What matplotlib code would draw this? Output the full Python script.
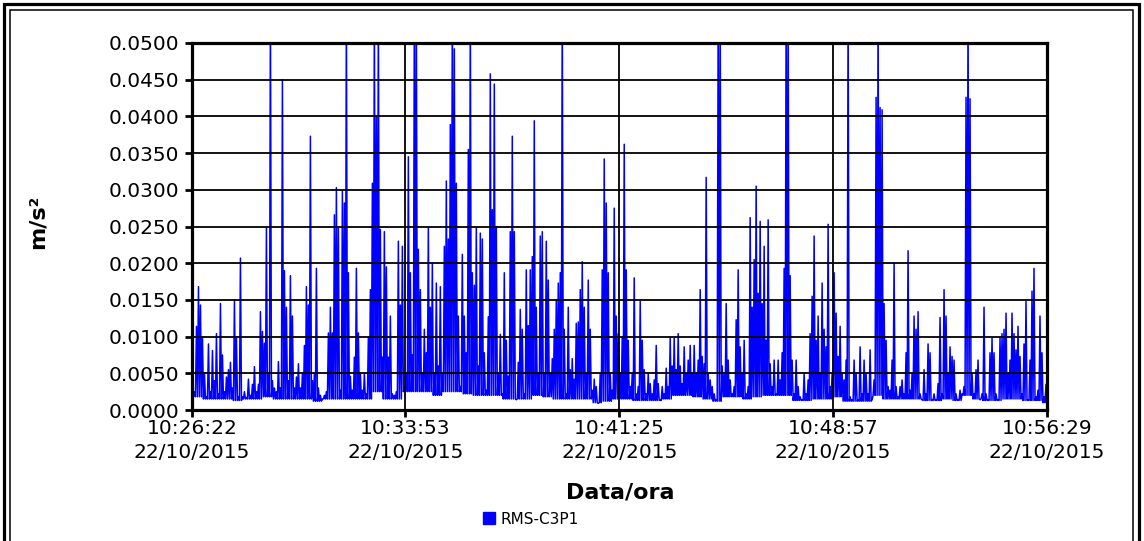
import matplotlib
matplotlib.use("Agg")
import matplotlib.pyplot as plt
import matplotlib.dates as mdates
from matplotlib.ticker import FormatStrFormatter
from matplotlib.patches import Rectangle
from matplotlib.lines import Line2D
import numpy as np
import pandas as pd

# valori RMS (massimi), in 10^-3 m/s^2 (55 = fuori scala)
rms_1 = [2.0, 2.5, 11.4, 16.8, 14.3, 10.0, 5.0, 1.8, 9.0, 2.5, 8.1, 4.0, 10.4, 2.2,
         14.5, 7.5, 2.5, 4.5, 5.5, 6.5, 3.0, 15.0, 10.0, 1.8, 20.7, 1.8, 2.5, 1.7,
         4.2, 2.0, 3.5, 5.9, 2.5, 3.5, 13.4, 10.7, 9.1, 24.8, 5.0, 55, 4.0, 3.0,
         2.5, 6.6, 3.0, 45.0, 19.0, 14.0, 4.0, 18.3, 12.8, 3.0, 4.5, 6.3, 3.0, 5.0,
         8.8, 16.8, 14.3, 37.3, 4.0, 5.0, 19.3, 3.0, 2.0, 1.5, 2.0, 2.5, 10.5, 14.0]
rms_2 = [10.5, 26.6, 30.3, 24.8, 2.7, 29.8, 28.2, 55, 18.7, 4.6, 2.7, 7.2, 19.3, 10.5,
         5.0, 2.7, 5.0, 2.2, 10.0, 16.4, 30.9, 55, 40.0, 55, 24.6, 7.2, 24.3, 19.5,
         7.2, 12.8, 2.2, 2.0, 2.5, 23.0, 14.3, 22.3, 3.2, 5.0, 34.5, 18.7, 7.5, 55,
         55, 21.9, 16.4, 5.0, 11.0, 7.8, 24.8, 14.0, 20.0, 5.0, 17.3, 6.0, 16.8, 5.0,
         22.3, 31.2, 23.3, 38.9, 55, 49.2, 30.9, 12.8, 3.2, 21.2, 12.8, 7.8, 35.5, 55,
         18.7, 17.0]
rms_3 = [24.8, 6.0, 24.1, 23.3, 7.8, 2.7, 12.7, 45.8, 27.3, 44.4, 25.0, 5.0, 10.3, 2.2,
         18.7, 9.5, 4.6, 24.3, 37.3, 24.3, 1.4, 6.5, 13.7, 11.0, 2.2, 19.1, 11.5, 19.1,
         20.9, 39.4, 14.0, 5.0, 23.7, 24.3, 5.0, 23.0, 17.7, 5.0, 7.0, 11.0, 15.0, 17.3,
         18.7, 55, 11.0, 2.2, 14.0, 5.5, 7.0, 4.2, 11.8, 12.0, 16.4, 20.2, 14.0, 5.0,
         17.7, 11.0, 2.7, 4.2, 3.2, 0.9, 5.0, 19.1, 34.2, 28.2, 18.7, 5.0, 2.7, 27.5,
         12.8]
rms_4 = [10.4, 5.0, 10.0, 36.2, 19.1, 9.5, 3.2, 5.0, 18.0, 2.2, 3.2, 14.8, 9.5, 5.5,
         2.2, 5.0, 3.6, 2.2, 4.1, 8.8, 3.6, 1.4, 3.2, 2.2, 5.7, 3.2, 9.8, 6.0,
         9.8, 5.5, 10.4, 6.0, 3.6, 8.6, 5.0, 6.8, 8.8, 5.0, 8.8, 5.0, 6.8, 16.4,
         7.3, 6.3, 31.7, 5.0, 4.1, 3.2, 2.2, 1.4, 55, 55, 6.0, 5.0, 14.5, 6.8,
         4.1, 2.2, 3.2, 12.3, 19.1, 8.6, 5.0, 9.5, 2.2, 3.2, 26.2, 14.0, 20.5, 30.5,
         15.9]
rms_5 = [25.7, 14.5, 22.3, 9.5, 25.9, 6.3, 3.2, 6.8, 2.2, 6.8, 4.1, 7.8, 19.3, 55,
         55, 18.3, 6.8, 2.2, 6.8, 3.2, 1.8, 1.4, 5.0, 2.2, 4.1, 10.4, 15.5, 23.7,
         9.5, 12.8, 5.0, 17.3, 11.0, 8.6, 25.3, 3.2, 5.0, 18.7, 13.2, 7.3, 11.4, 5.0,
         4.1, 6.8, 55, 1.8, 1.4, 6.8, 5.0, 1.4, 8.6, 2.2, 6.8, 5.0, 2.2, 8.2,
         1.4, 4.1, 42.6, 55, 41.2, 40.9, 14.5, 9.5, 3.2, 2.7, 6.8, 20.0, 3.2, 1.8]
rms_6 = [3.2, 4.1, 2.2, 7.8, 21.7, 2.7, 5.0, 12.8, 11.0, 13.4, 2.2, 1.4, 5.5, 2.2,
         9.0, 7.8, 1.4, 2.2, 1.4, 3.6, 12.6, 2.2, 16.4, 12.8, 5.0, 8.6, 7.3, 6.8,
         2.2, 1.4, 2.7, 2.2, 3.2, 42.6, 55, 42.4, 5.0, 2.2, 5.5, 6.8, 1.4, 2.2,
         14.0, 2.2, 1.4, 7.8, 9.8, 7.8, 2.2, 1.4, 9.8, 10.4, 11.0, 13.2, 5.0, 6.8,
         13.2, 10.4, 8.2, 11.4, 7.3, 2.2, 9.0, 14.8, 1.4, 6.8, 16.2, 19.3, 1.8, 2.7,
         12.8, 7.8, 1.8, 3.5]

# livello minimo del segnale, uno ogni 5 campioni (10^-3 m/s^2)
fondo = [1.8, 1.5, 1.5, 1.5, 1.3, 1.5, 1.5, 1.8, 1.5, 1.5, 1.5, 1.5, 1.2, 1.5,
         1.5, 1.5, 1.5, 1.5, 2.5, 1.5, 1.5, 2.5, 2.5, 2.5, 2.0, 2.5, 2.5, 2.2,
         2.0, 2.0, 2.0, 1.5, 1.5, 1.5, 2.0, 1.8, 1.5, 1.5, 1.5, 1.5, 1.0, 1.2,
         1.5, 1.5, 1.3, 1.3, 1.3, 1.5, 2.0, 2.0, 1.8, 1.5, 1.2, 1.8, 1.8, 1.5,
         1.8, 2.0, 2.0, 2.0, 1.3, 1.3, 1.5, 1.5, 1.8, 1.2, 1.2, 1.2, 2.0, 1.5,
         1.5, 1.5, 1.5, 1.3, 1.3, 1.5, 1.3, 2.0, 1.5, 1.3, 1.3, 1.5, 1.5, 1.3,
         1.3, 1.0]

giorno = "2015-10-22"
etichette_ore = ["10:26:22", "10:33:53", "10:41:25", "10:48:57", "10:56:29"]

picchi = np.array(rms_1 + rms_2 + rms_3 + rms_4 + rms_5 + rms_6)
minimi = np.array(fondo)[np.arange(len(picchi)) // 5]
# alterna massimo e minimo per ogni campione
rms = np.empty(2 * len(picchi))
rms[0::2] = picchi
rms[1::2] = minimi
rms = rms * 1e-3
tempo = pd.date_range(giorno + " 10:26:23", giorno + " 10:56:29", periods=len(rms))
tick_ore = [pd.Timestamp(giorno + " " + h) for h in etichette_ore]

fig = plt.figure(figsize=(11.44, 5.41), dpi=100)
fig.patch.set_facecolor("white")
ax = fig.add_axes([192 / 1144, 1 - 410 / 541, 855 / 1144, 367 / 541])

ax.plot(tempo, rms, color="#0000ff", lw=1.1, zorder=2)

ax.set_ylim(0, 0.05)
ax.set_xlim(tick_ore[0], tick_ore[-1])
ax.set_yticks(np.arange(0, 0.0501, 0.005))
ax.yaxis.set_major_formatter(FormatStrFormatter("%.4f"))
ax.set_xticks(tick_ore)
ax.xaxis.set_major_formatter(mdates.DateFormatter("%H:%M:%S\n%d/%m/%Y"))

ax.set_axisbelow(False)
ax.grid(True, color="black", lw=1.3)
for s in ax.spines.values():
    s.set_linewidth(2.3)
    s.set_color("black")
ax.tick_params(axis="both", direction="out", length=5, width=2, labelsize=14.5,
               colors="black")
ax.tick_params(axis="y", pad=4)
ax.tick_params(axis="x", pad=1.5)
for lab in ax.get_xticklabels():
    lab.set_linespacing(1.3)

fig.text(38 / 1144, 1 - 222 / 541, "m/s²", rotation=90, ha="center", va="center",
         fontsize=16, fontweight="bold")
fig.text(620 / 1144, 1 - 492 / 541, "Data/ora", ha="center", va="center",
         fontsize=16, fontweight="bold")

simbolo = Line2D([], [], color="#0000ff", marker="s", linestyle="none", markersize=8)
fig.legend([simbolo], ["RMS-C3P1"], loc="center", bbox_to_anchor=(530 / 1144, 1 - 519 / 541),
           frameon=False, fontsize=11, handletextpad=0.3, handlelength=1)

# doppia cornice
fig.patches.append(Rectangle((4 / 1144, -0.2), 1135 / 1144, 1.2 - 4 / 541,
                             transform=fig.transFigure, fill=False, lw=2.3,
                             edgecolor="black"))
fig.patches.append(Rectangle((10 / 1144, -0.2), 1123 / 1144, 1.2 - 10 / 541,
                             transform=fig.transFigure, fill=False, lw=1.1,
                             edgecolor="black"))

fig.savefig("out.png", dpi=100)
